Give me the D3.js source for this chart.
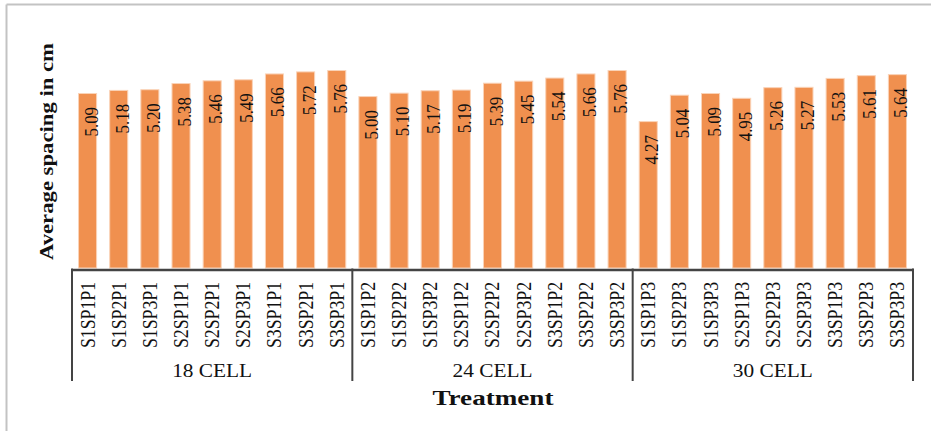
<!DOCTYPE html>
<html>
<head>
<meta charset="utf-8">
<script src="https://cdn.jsdelivr.net/npm/d3@7"></script>
<style>
  html, body { margin: 0; padding: 0; background: #fff; }
  svg { display: block; }
  text { font-family: "Liberation Serif", "Times New Roman", serif; }
</style>
</head>
<body>
<svg id="chart" width="931" height="431"></svg>
<script>
// Treatment combinations, grouped by tray cell count
const groups = ["18 CELL", "24 CELL", "30 CELL"];
const cells18 = ["S1SP1P1", "S1SP2P1", "S1SP3P1", "S2SP1P1", "S2SP2P1", "S2SP3P1", "S3SP1P1", "S3SP2P1", "S3SP3P1"];
const cells24 = ["S1SP1P2", "S1SP2P2", "S1SP3P2", "S2SP1P2", "S2SP2P2", "S2SP3P2", "S3SP1P2", "S3SP2P2", "S3SP3P2"];
const cells30 = ["S1SP1P3", "S1SP2P3", "S1SP3P3", "S2SP1P3", "S2SP2P3", "S2SP3P3", "S3SP1P3", "S3SP2P3", "S3SP3P3"];

// Average spacing (cm) for each treatment
const spacing18 = [5.09, 5.18, 5.20, 5.38, 5.46, 5.49, 5.66, 5.72, 5.76];
const spacing24 = [5.00, 5.10, 5.17, 5.19, 5.39, 5.45, 5.54, 5.66, 5.76];
const spacing30 = [4.27, 5.04, 5.09, 4.95, 5.26, 5.27, 5.53, 5.61, 5.64];

const yTitle = "Average spacing in cm";
const xTitle = "Treatment";

const categoryLists = [cells18, cells24, cells30];
const valueLists = [spacing18, spacing24, spacing30];
const rows = [];
categoryLists.forEach((cats, gi) => {
  cats.forEach((c, i) => rows.push({ group: groups[gi], name: c, value: valueLists[gi][i] }));
});

const svg = d3.select("#chart");
const W = 931, H = 431;
const left = 72, right = 913, baseY = 268, topY = 28;

// frame (top and left edges visible)
svg.append("line").attr("x1", 6.5).attr("x2", W).attr("y1", 4.5).attr("y2", 4.5)
  .attr("stroke", "#c3c3c3").attr("stroke-width", 2);
svg.append("line").attr("x1", 6.5).attr("x2", 6.5).attr("y1", 4.5).attr("y2", H)
  .attr("stroke", "#c3c3c3").attr("stroke-width", 2);

const x = d3.scaleBand()
  .domain(rows.map(d => d.name))
  .range([left, right])
  .paddingInner(0.42)
  .paddingOuter(0.21);

const y = d3.scaleLinear().domain([0, 7]).range([baseY, topY]);

// bars
svg.append("g").selectAll("rect")
  .data(rows)
  .join("rect")
  .attr("x", d => x(d.name))
  .attr("y", d => y(d.value))
  .attr("width", x.bandwidth())
  .attr("height", d => y(0) - y(d.value))
  .attr("fill", "#F0904F")
  .attr("stroke", "#FAD3B8")
  .attr("stroke-width", 1);

// value labels, rotated inside the top of each bar
svg.append("g").selectAll("text")
  .data(rows)
  .join("text")
  .attr("transform", d => `translate(${x(d.name) + x.bandwidth() / 2 + 10},${y(d.value) + 13.5}) rotate(-90)`)
  .attr("text-anchor", "end")
  .attr("font-size", 18.5)
  .attr("textLength", 29.5)
  .attr("lengthAdjust", "spacingAndGlyphs")
  .attr("fill", "#111")
  .text(d => d.value.toFixed(2));

// category axis
const axis = svg.append("g")
  .attr("transform", `translate(0,${baseY + 1.5})`)
  .call(d3.axisBottom(x).tickSize(0).tickSizeOuter(0).tickPadding(0));
axis.select(".domain").attr("stroke", "#444").attr("stroke-width", 2.5);
axis.selectAll(".tick text")
  .attr("transform", "rotate(-90)")
  .attr("x", -12.5)
  .attr("y", 0)
  .attr("dx", 0)
  .attr("dy", "0.34em")
  .attr("text-anchor", "end")
  .attr("font-size", 20.5)
  .attr("textLength", 66)
  .attr("lengthAdjust", "spacingAndGlyphs")
  .attr("fill", "#111");

// group dividers and group labels
const bounds = [0, 9, 18, 27].map(i => left + i * (right - left) / 27);
svg.append("g").selectAll("line")
  .data(bounds)
  .join("line")
  .attr("x1", d => d).attr("x2", d => d)
  .attr("y1", baseY + 0.5).attr("y2", 381)
  .attr("stroke", "#444").attr("stroke-width", 2);

svg.append("g").selectAll("text")
  .data(groups)
  .join("text")
  .attr("x", (d, i) => (bounds[i] + bounds[i + 1]) / 2)
  .attr("y", 377)
  .attr("text-anchor", "middle")
  .attr("font-size", 18.5)
  .attr("textLength", 80)
  .attr("lengthAdjust", "spacingAndGlyphs")
  .attr("fill", "#111")
  .text(d => d);

// axis titles
svg.append("text")
  .attr("x", (left + right) / 2 + 0.5)
  .attr("y", 405)
  .attr("text-anchor", "middle")
  .attr("font-size", 21)
  .attr("font-weight", "bold")
  .attr("textLength", 121)
  .attr("lengthAdjust", "spacingAndGlyphs")
  .attr("fill", "#111")
  .text(xTitle);

svg.append("text")
  .attr("transform", "translate(53,151.5) rotate(-90)")
  .attr("text-anchor", "middle")
  .attr("font-size", 19.5)
  .attr("font-weight", "bold")
  .attr("textLength", 217)
  .attr("lengthAdjust", "spacingAndGlyphs")
  .attr("fill", "#111")
  .text(yTitle);
</script>
</body>
</html>
